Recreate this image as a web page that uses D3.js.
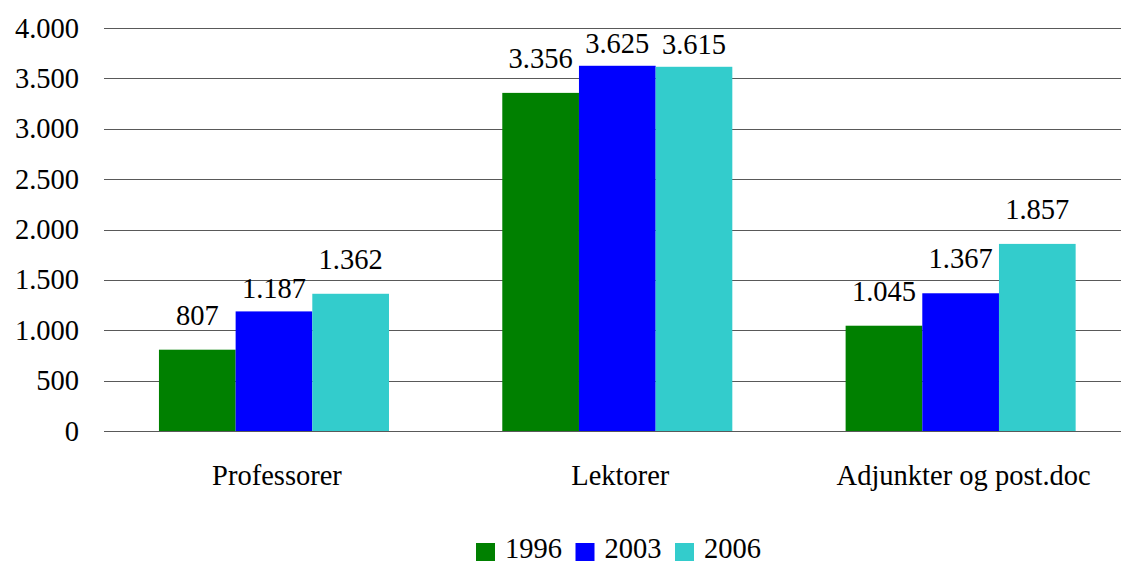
<!DOCTYPE html>
<meta charset="utf-8">
<title>Ansatte</title>
<style>
body { margin: 0; background: #fff; }
svg text { font-family: "Liberation Serif", "Times New Roman", Times, Tinos, "DejaVu Serif", serif; fill: #000; }
.grid line { stroke: #595959; stroke-width: 1.2; }
</style>
<body>
<svg width="1121" height="565"></svg>
<script src="https://d3js.org/d3.v7.min.js"></script>
<script>

var categories = ["Professorer", "Lektorer", "Adjunkter og post.doc"];
var years = ["1996", "2003", "2006"];
var v1996 = [807, 3356, 1045];
var v2003 = [1187, 3625, 1367];
var v2006 = [1362, 3615, 1857];
var yTicks = [0, 500, 1000, 1500, 2000, 2500, 3000, 3500, 4000];
var colors = ["#008000", "#0000ff", "#33cccc"];

var series = [v1996, v2003, v2006];
var fmt = function(n) { return d3.format(",")(n).replace(/,/g, "."); };
var FONT = "'Liberation Serif', 'Times New Roman', Times, serif";

var svg = d3.select("svg");

var x0 = d3.scaleBand().domain(categories).range([102.3, 1132.3])
    .paddingInner(0.33).paddingOuter(0.165);
var x1 = d3.scaleBand().domain(years).range([0, x0.bandwidth()]);
var y = d3.scaleLinear().domain([0, 4000]).range([431, 28]);

// grid lines + y labels
var grid = svg.append("g").attr("class", "grid");
grid.selectAll("line").data(yTicks).enter().append("line")
    .attr("x1", 104).attr("x2", 1121)
    .attr("y1", function(d) { return Math.round(y(d)) + 0.5; })
    .attr("y2", function(d) { return Math.round(y(d)) + 0.5; });
svg.append("g").selectAll("text").data(yTicks).enter().append("text")
    .attr("x", 79).attr("y", function(d) { return y(d) + 9.5; })
    .attr("text-anchor", "end").attr("font-family", FONT).style("font-size", "28.5px")
    .text(fmt);

// bars
var rows = [];
categories.forEach(function(c, i) {
    years.forEach(function(yr, j) {
        rows.push({cat: c, year: yr, s: j, v: series[j][i]});
    });
});

svg.append("g").selectAll("rect").data(rows).enter().append("rect")
    .attr("x", function(d) { return x0(d.cat) + x1(d.year); })
    .attr("y", function(d) { return y(d.v); })
    .attr("width", x1.bandwidth())
    .attr("height", function(d) { return y(0) - y(d.v); })
    .attr("fill", function(d) { return colors[d.s]; });

// value labels (some lifted less to avoid the neighbour's label)
var closeLabels = {"Professorer|2003": 1, "Lektorer|2003": 1, "Lektorer|2006": 1};
svg.append("g").selectAll("text").data(rows).enter().append("text")
    .attr("x", function(d) { return x0(d.cat) + x1(d.year) + x1.bandwidth() / 2; })
    .attr("y", function(d) {
        return y(d.v) - (closeLabels[d.cat + "|" + d.year] ? 13 : 25);
    })
    .attr("text-anchor", "middle").attr("font-family", FONT).style("font-size", "28.5px")
    .text(function(d) { return fmt(d.v); });

// category labels
svg.append("g").selectAll("text").data(categories).enter().append("text")
    .attr("x", function(d) { return x0(d) + x0.bandwidth() / 2 + 3; })
    .attr("y", 485)
    .attr("text-anchor", "middle").attr("font-family", FONT).style("font-size", "28.5px")
    .text(function(d) { return d; });

// legend
var leg = svg.append("g").selectAll("g").data(years).enter().append("g")
    .attr("transform", function(d, i) { return "translate(" + (476 + i * 99.5) + ",543)"; });
leg.append("rect").attr("width", 19).attr("height", 18)
    .attr("fill", function(d, i) { return colors[i]; });
leg.append("text").attr("x", 29).attr("y", 15)
    .attr("font-family", FONT).style("font-size", "28.5px").text(function(d) { return d; });

</script>
</body>
